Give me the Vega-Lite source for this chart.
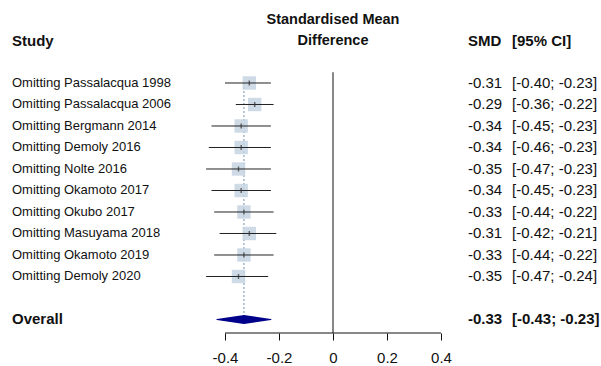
{
  "$schema": "https://vega.github.io/schema/vega-lite/v6.json",
  "padding": {"left": 12, "top": 0, "right": 0, "bottom": 0},
  "background": "white",
  "spacing": 0,
  "bounds": "flush",
  "config": {
    "view": {"stroke": null},
    "text": {"font": "Liberation Sans", "fontSize": 15, "color": "#111111"},
    "axis": {"labelFont": "Liberation Sans"}
  },
  "datasets": {
    "loo": [
      {"study": "Omitting Passalacqua 1998", "smd": -0.31, "lo": -0.40, "hi": -0.23, "row": 1, "kind": "study"},
      {"study": "Omitting Passalacqua 2006", "smd": -0.29, "lo": -0.36, "hi": -0.22, "row": 2, "kind": "study"},
      {"study": "Omitting Bergmann 2014", "smd": -0.34, "lo": -0.45, "hi": -0.23, "row": 3, "kind": "study"},
      {"study": "Omitting Demoly 2016", "smd": -0.34, "lo": -0.46, "hi": -0.23, "row": 4, "kind": "study"},
      {"study": "Omitting Nolte 2016", "smd": -0.35, "lo": -0.47, "hi": -0.23, "row": 5, "kind": "study"},
      {"study": "Omitting Okamoto 2017", "smd": -0.34, "lo": -0.45, "hi": -0.23, "row": 6, "kind": "study"},
      {"study": "Omitting Okubo 2017", "smd": -0.33, "lo": -0.44, "hi": -0.22, "row": 7, "kind": "study"},
      {"study": "Omitting Masuyama 2018", "smd": -0.31, "lo": -0.42, "hi": -0.21, "row": 8, "kind": "study"},
      {"study": "Omitting Okamoto 2019", "smd": -0.33, "lo": -0.44, "hi": -0.22, "row": 9, "kind": "study"},
      {"study": "Omitting Demoly 2020", "smd": -0.35, "lo": -0.47, "hi": -0.24, "row": 10, "kind": "study"},
      {"study": "Overall", "smd": -0.33, "lo": -0.43, "hi": -0.23, "row": 12, "kind": "overall"}
    ]
  },
  "hconcat": [
    {
      "width": 186,
      "height": 333,
      "layer": [
        {
          "data": {"values": [{"label": "Study"}]},
          "mark": {"type": "text", "align": "left", "baseline": "middle", "fontWeight": "bold"},
          "encoding": {
            "x": {"datum": 0, "type": "quantitative", "scale": {"domain": [0, 1]}, "axis": null},
            "y": {"datum": -0.95, "type": "quantitative", "scale": {"domain": [-2.86, 12.628], "reverse": true, "nice": false, "zero": false}, "axis": null},
            "text": {"field": "label"}
          }
        },
        {
          "data": {"name": "loo"},
          "transform": [{"filter": "datum.kind == 'study'"}],
          "mark": {"type": "text", "align": "left", "baseline": "middle", "fontSize": 13},
          "encoding": {
            "x": {"datum": 0, "type": "quantitative"},
            "y": {"field": "row", "type": "quantitative"},
            "text": {"field": "study"}
          }
        },
        {
          "data": {"name": "loo"},
          "transform": [{"filter": "datum.kind == 'overall'"}],
          "mark": {"type": "text", "align": "left", "baseline": "middle", "fontWeight": "bold"},
          "encoding": {
            "x": {"datum": 0, "type": "quantitative"},
            "y": {"field": "row", "type": "quantitative"},
            "text": {"field": "study"}
          }
        }
      ]
    },
    {
      "width": 270,
      "height": 333,
      "layer": [
        {
          "data": {"values": [{"label": "Standardised Mean", "line": -1.93}, {"label": "Difference", "line": -0.95}]},
          "mark": {"type": "text", "align": "center", "baseline": "middle", "fontWeight": "bold", "fontSize": 14.5},
          "encoding": {
            "x": {"datum": 0, "type": "quantitative", "scale": {"domain": [-0.5, 0.5], "nice": false, "zero": false},
              "axis": {"values": [-0.4, -0.2, 0, 0.2, 0.4], "labelExpr": "'' + datum.value", "domain": false, "grid": false, "ticks": true, "tickSize": 7, "tickColor": "#111111", "tickWidth": 1, "labelFontSize": 15, "labelColor": "#111111", "labelPadding": 10, "title": null}},
            "y": {"field": "line", "type": "quantitative", "scale": {"domain": [-2.86, 12.628], "reverse": true, "nice": false, "zero": false}, "axis": null},
            "text": {"field": "label"}
          }
        },
        {
          "data": {"values": [{"from": -0.4, "to": 0.4, "level": 12.628}]},
          "mark": {"type": "rule", "color": "#111111", "strokeWidth": 1},
          "encoding": {
            "x": {"field": "from", "type": "quantitative"},
            "x2": {"field": "to"},
            "y": {"field": "level", "type": "quantitative"}
          }
        },
        {
          "data": {"values": [{"null_effect": 0, "top": 0.5, "bottom": 12.628}]},
          "mark": {"type": "rule", "color": "#111111", "strokeWidth": 1},
          "encoding": {
            "x": {"field": "null_effect", "type": "quantitative"},
            "y": {"field": "top", "type": "quantitative"},
            "y2": {"field": "bottom"}
          }
        },
        {
          "data": {"name": "loo"},
          "transform": [
            {"joinaggregate": [{"op": "min", "field": "row", "as": "first_row"}]},
            {"filter": "datum.kind == 'overall'"}
          ],
          "mark": {"type": "rule", "color": "#8aa6c0", "strokeWidth": 1.2, "strokeDash": [2, 2]},
          "encoding": {
            "x": {"field": "smd", "type": "quantitative"},
            "y": {"field": "first_row", "type": "quantitative"},
            "y2": {"field": "row"}
          }
        },
        {
          "data": {"name": "loo"},
          "transform": [{"filter": "datum.kind == 'study'"}],
          "mark": {"type": "square", "size": 180, "color": "#c6d5e2", "opacity": 0.85, "filled": true},
          "encoding": {
            "x": {"field": "smd", "type": "quantitative"},
            "y": {"field": "row", "type": "quantitative"}
          }
        },
        {
          "data": {"name": "loo"},
          "transform": [{"filter": "datum.kind == 'study'"}],
          "mark": {"type": "rule", "color": "#222222", "strokeWidth": 1},
          "encoding": {
            "x": {"field": "lo", "type": "quantitative"},
            "x2": {"field": "hi"},
            "y": {"field": "row", "type": "quantitative"}
          }
        },
        {
          "data": {"name": "loo"},
          "transform": [{"filter": "datum.kind == 'study'"}],
          "mark": {"type": "tick", "orient": "vertical", "size": 5, "thickness": 1.5, "color": "#333333"},
          "encoding": {
            "x": {"field": "smd", "type": "quantitative"},
            "y": {"field": "row", "type": "quantitative"}
          }
        },
        {
          "data": {"name": "loo"},
          "transform": [
            {"filter": "datum.kind == 'overall'"},
            {"fold": ["lo", "smd", "hi"], "as": ["bound", "value"]}
          ],
          "mark": {"type": "trail", "color": "#00008b"},
          "encoding": {
            "x": {"field": "value", "type": "quantitative"},
            "y": {"field": "row", "type": "quantitative"},
            "size": {"field": "bound", "type": "nominal", "scale": {"type": "ordinal", "domain": ["lo", "smd", "hi"], "range": [0, 9, 0]}, "legend": null}
          }
        }
      ]
    },
    {
      "width": 44,
      "height": 333,
      "layer": [
        {
          "data": {"values": [{"label": "SMD"}]},
          "mark": {"type": "text", "align": "left", "baseline": "middle", "fontWeight": "bold"},
          "encoding": {
            "x": {"datum": 0, "type": "quantitative", "scale": {"domain": [0, 1]}, "axis": null},
            "y": {"datum": -0.95, "type": "quantitative", "scale": {"domain": [-2.86, 12.628], "reverse": true, "nice": false, "zero": false}, "axis": null},
            "text": {"field": "label"}
          }
        },
        {
          "data": {"name": "loo"},
          "transform": [
            {"filter": "datum.kind == 'study'"},
            {"calculate": "replace(format(datum.smd, '.2f'), '\u2212', '-')", "as": "smd_label"}
          ],
          "mark": {"type": "text", "align": "left", "baseline": "middle"},
          "encoding": {
            "x": {"datum": 0, "type": "quantitative"},
            "y": {"field": "row", "type": "quantitative"},
            "text": {"field": "smd_label"}
          }
        },
        {
          "data": {"name": "loo"},
          "transform": [
            {"filter": "datum.kind == 'overall'"},
            {"calculate": "replace(format(datum.smd, '.2f'), '\u2212', '-')", "as": "smd_label"}
          ],
          "mark": {"type": "text", "align": "left", "baseline": "middle", "fontWeight": "bold"},
          "encoding": {
            "x": {"datum": 0, "type": "quantitative"},
            "y": {"field": "row", "type": "quantitative"},
            "text": {"field": "smd_label"}
          }
        }
      ]
    },
    {
      "width": 89,
      "height": 333,
      "layer": [
        {
          "data": {"values": [{"label": "[95% CI]"}]},
          "mark": {"type": "text", "align": "left", "baseline": "middle", "fontWeight": "bold"},
          "encoding": {
            "x": {"datum": 0, "type": "quantitative", "scale": {"domain": [0, 1]}, "axis": null},
            "y": {"datum": -0.95, "type": "quantitative", "scale": {"domain": [-2.86, 12.628], "reverse": true, "nice": false, "zero": false}, "axis": null},
            "text": {"field": "label"}
          }
        },
        {
          "data": {"name": "loo"},
          "transform": [
            {"filter": "datum.kind == 'study'"},
            {"calculate": "'[' + replace(format(datum.lo, '.2f'), '\u2212', '-') + '; ' + replace(format(datum.hi, '.2f'), '\u2212', '-') + ']'", "as": "ci_label"}
          ],
          "mark": {"type": "text", "align": "left", "baseline": "middle"},
          "encoding": {
            "x": {"datum": 0, "type": "quantitative"},
            "y": {"field": "row", "type": "quantitative"},
            "text": {"field": "ci_label"}
          }
        },
        {
          "data": {"name": "loo"},
          "transform": [
            {"filter": "datum.kind == 'overall'"},
            {"calculate": "'[' + replace(format(datum.lo, '.2f'), '\u2212', '-') + '; ' + replace(format(datum.hi, '.2f'), '\u2212', '-') + ']'", "as": "ci_label"}
          ],
          "mark": {"type": "text", "align": "left", "baseline": "middle", "fontWeight": "bold"},
          "encoding": {
            "x": {"datum": 0, "type": "quantitative"},
            "y": {"field": "row", "type": "quantitative"},
            "text": {"field": "ci_label"}
          }
        }
      ]
    }
  ]
}
